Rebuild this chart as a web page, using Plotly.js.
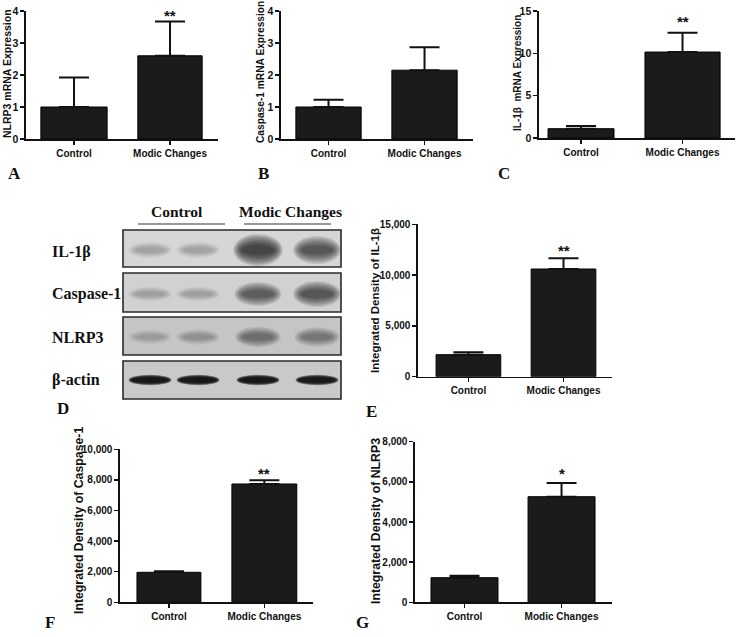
<!DOCTYPE html>
<html><head><meta charset="utf-8">
<script src="https://cdn.plot.ly/plotly-3.0.1.min.js"></script>
<style>html,body{margin:0;padding:0;background:#fff}#chart{width:738px;height:637px}</style>
</head><body><div id="chart"></div>
<script>
const W = 738, H = 637;

// ---------- data ----------
const categories = ['Control', 'Modic Changes'];
const nlrp3mRNA = [1.0, 2.6];
const nlrp3mRNAErr = [0.92, 1.07];
const caspase1mRNA = [1.0, 2.15];
const caspase1mRNAErr = [0.23, 0.72];
const il1bmRNA = [1.1, 10.15];
const il1bmRNAErr = [0.32, 2.29];
const il1bDensity = [2165, 10600];
const il1bDensityErr = [235, 1050];
const casp1Density = [1961, 7733];
const casp1DensityErr = [64, 237];
const nlrp3Density = [1225, 5260];
const nlrp3DensityErr = [100, 680];
const significance = ['**', '', '**', '**', '**', '*'];
const sigLevel = [3.94, null, 14.1, 12670, 8600, 6590];

// western blot band intensities (0..1), lanes: Control, Control, Modic, Modic
const blotRows = ['IL-1β', 'Caspase-1', 'NLRP3', 'β-actin'];
const il1bBands = [0.22, 0.22, 1.0, 0.8];
const casp1Bands = [0.2, 0.2, 0.7, 0.8];
const nlrp3Bands = [0.18, 0.25, 0.5, 0.45];
const actinBands = [0.95, 0.95, 0.95, 0.92];
const blotGroups = ['Control', 'Modic Changes'];

// ---------- layout geometry ----------
const px = v => v / W;
const py = v => 1 - v / H;
const SANS = 'Liberation Sans, Arial, sans-serif';
const SERIF = 'Liberation Serif, Times New Roman, serif';

const panels = [
  {vals: nlrp3mRNA, errs: nlrp3mRNAErr, title: 'NLRP3 mRNA Expression', yr: [0, 4], dtick: 1, fmt: '',
   x0: 26, x1: 218, y0: 139, y1: 11, xr: [-0.5, 1.5], widths: [0.69, 0.67], tx: 7, ty: 74, ts: 10.5, tf: 10.5, letter: 'A', lx: 14, ly: 173},
  {vals: caspase1mRNA, errs: caspase1mRNAErr, title: 'Caspase-1 mRNA Expression', yr: [0, 4], dtick: 1, fmt: '',
   x0: 281, x1: 473, y0: 139, y1: 11, xr: [-0.495, 1.505], widths: [0.68, 0.68], tx: 261, ty: 72, ts: 10.2, tf: 10.5, letter: 'B', lx: 263, ly: 173},
  {vals: il1bmRNA, errs: il1bmRNAErr, title: 'IL-1β\u00a0 mRNA Expression', yr: [0, 15], dtick: 5, fmt: '',
   x0: 539, x1: 735, y0: 138, y1: 11, xr: [-0.414, 1.517], widths: [0.65, 0.74], tx: 518, ty: 73, ts: 10, tf: 10.5, letter: 'C', lx: 504, ly: 173},
  {vals: il1bDensity, errs: il1bDensityErr, title: 'Integrated Density of IL-1β', yr: [0, 15000], dtick: 5000, fmt: ',d',
   x0: 418, x1: 612, y0: 376.7, y1: 224.3, xr: [-0.53, 1.51], widths: [0.68, 0.68], tx: 375, ty: 301, ts: 11.5, tf: 10, letter: 'E', lx: 371, ly: 411},
  {vals: casp1Density, errs: casp1DensityErr, title: 'Integrated Density of Caspase-1', yr: [0, 10000], dtick: 2000, fmt: ',d',
   x0: 120, x1: 313, y0: 602.3, y1: 449.3, xr: [-0.513, 1.51], widths: [0.67, 0.68], tx: 79, ty: 521, ts: 12.3, tf: 10, letter: 'F', lx: 50, ly: 622},
  {vals: nlrp3Density, errs: nlrp3DensityErr, title: 'Integrated Density of NLRP3', yr: [0, 8000], dtick: 2000, fmt: ',d',
   x0: 415, x1: 612, y0: 602.3, y1: 441.7, xr: [-0.51, 1.52], widths: [0.69, 0.69], tx: 376, ty: 521, ts: 12.3, tf: 10, letter: 'G', lx: 362, ly: 622}
];

const data = [];
const layout = {
  width: W, height: H, margin: {l: 0, r: 0, t: 0, b: 0},
  paper_bgcolor: '#fff', plot_bgcolor: 'rgba(0,0,0,0)', showlegend: false,
  annotations: [], shapes: [], bargap: 0
};

panels.forEach((p, i) => {
  const n = i === 0 ? '' : String(i + 1);
  data.push({
    type: 'bar', x: categories, y: p.vals, width: p.widths,
    xaxis: 'x' + n, yaxis: 'y' + n,
    marker: {color: '#1b1b1b', line: {color: '#000', width: 1}},
    error_y: {type: 'data', symmetric: false, array: p.errs, arrayminus: [0, 0],
              color: '#111', thickness: 2, width: 15},
    hoverinfo: 'skip'
  });
  layout['xaxis' + n] = {
    domain: [px(p.x0), px(p.x1)], anchor: 'y' + n, type: 'category', range: p.xr,
    tickvals: categories, ticktext: categories.map(c => '<b>' + c + '</b>'),
    showline: true, linecolor: '#111', linewidth: 1.6, showgrid: false, zeroline: false,
    ticks: 'outside', ticklen: 4, tickwidth: 1.4, tickcolor: '#111',
    tickfont: {family: SANS, size: 10, color: '#111'}, fixedrange: true
  };
  layout['yaxis' + n] = {
    domain: [py(p.y0), py(p.y1)], anchor: 'x' + n, range: p.yr, dtick: p.dtick, tick0: 0,
    tickformat: p.fmt, tickprefix: '<b>', ticksuffix: '</b>',
    showline: true, linecolor: '#111', linewidth: 1.6, showgrid: false, zeroline: false,
    ticks: 'outside', ticklen: 4, tickwidth: 1.4, tickcolor: '#111',
    tickfont: {family: SANS, size: p.tf, color: '#111'}, fixedrange: true
  };
  layout.annotations.push({
    text: '<b>' + p.title + '</b>', xref: 'paper', yref: 'paper', x: px(p.tx), y: py(p.ty), textangle: -90,
    showarrow: false, xanchor: 'center', yanchor: 'middle',
    font: {family: SANS, size: p.ts, color: '#111'}
  });
  if (significance[i]) {
    layout.annotations.push({
      text: '<b>' + significance[i] + '</b>', xref: 'x' + n, yref: 'y' + n, x: categories[1], y: sigLevel[i],
      showarrow: false, yanchor: 'middle', yshift: -3,
      font: {family: SANS, size: 15, color: '#111'}
    });
  }
  layout.annotations.push({
    text: '<b>' + p.letter + '</b>', xref: 'paper', yref: 'paper', x: px(p.lx), y: py(p.ly), showarrow: false,
    xanchor: 'center', yanchor: 'middle', font: {family: SERIF, size: 17, color: '#111'}
  });
});

// ---------- western blot (panel D) ----------
const bandData = [il1bBands, casp1Bands, nlrp3Bands, actinBands];
const boxX = [123, 341];
const boxY = [[230, 267], [273, 312], [317, 355], [361, 399]];
const boxFill = ['#d6d6d6', '#d1d1d1', '#c5c5c5', '#c9c9c9'];
const laneX = [150, 198, 258, 317];
const bandY = [250, 294, 337, 380];
const bandH = [13, 12, 12, 7];
const bandW = [42, 42, 42, 40];
const labelY = [252, 294, 337, 380];

const NL = 9;
boxY.forEach((b, r) => {
  layout.shapes.push({type: 'rect', xref: 'paper', yref: 'paper',
    x0: px(boxX[0]), x1: px(boxX[1]), y0: py(b[1]), y1: py(b[0]),
    fillcolor: boxFill[r], line: {color: '#2a2a2a', width: 1.6}, layer: 'below'});
  bandData[r].forEach((v, l) => {
    const cx = laneX[l], cy = bandY[r];
    const w = bandW[r] * (r === 3 ? 1 : (0.9 + 0.15 * v));
    const h = bandH[r] * (r === 3 ? 1 : (0.55 + 0.9 * v));
    for (let k = 0; k < NL; k++) {
      const t = k / (NL - 1);
      const sw = r === 3 ? 1.08 - 0.18 * t : 1.12 - 0.4 * t;
      const sh = r === 3 ? 1.5 - 0.8 * t : 1.7 - 1.2 * t;
      const a = (r === 3 ? 0.28 : 0.13) * v;
      layout.shapes.push({type: 'circle', xref: 'paper', yref: 'paper',
        x0: px(cx - w * sw / 2), x1: px(cx + w * sw / 2),
        y0: py(cy + h * sh / 2), y1: py(cy - h * sh / 2),
        fillcolor: 'rgba(15,15,15,' + a.toFixed(3) + ')', line: {width: 0}, layer: 'below'});
    }
  });
  layout.annotations.push({text: '<b>' + blotRows[r] + '</b>', xref: 'paper', yref: 'paper', x: px(50), y: py(labelY[r]),
    xanchor: 'left', yanchor: 'middle', showarrow: false,
    font: {family: SERIF, size: 16, color: '#111'}});
});

const groupX = [177, 290];
const groupLine = [[138, 225], [244, 331]];
blotGroups.forEach((g, k) => {
  layout.annotations.push({text: '<b>' + g + '</b>', xref: 'paper', yref: 'paper', x: px(groupX[k]), y: py(211),
    xanchor: 'center', yanchor: 'middle', showarrow: false,
    font: {family: SERIF, size: 15.5, color: '#111'}});
  layout.shapes.push({type: 'line', xref: 'paper', yref: 'paper',
    x0: px(groupLine[k][0]), x1: px(groupLine[k][1]), y0: py(224), y1: py(224),
    line: {color: '#333', width: 1}});
});
layout.annotations.push({text: '<b>D</b>', xref: 'paper', yref: 'paper', x: px(63), y: py(408), showarrow: false,
  xanchor: 'center', yanchor: 'middle', font: {family: SERIF, size: 17, color: '#111'}});

Plotly.newPlot('chart', data, layout, {staticPlot: true, displayModeBar: false});
</script>
</body></html>
